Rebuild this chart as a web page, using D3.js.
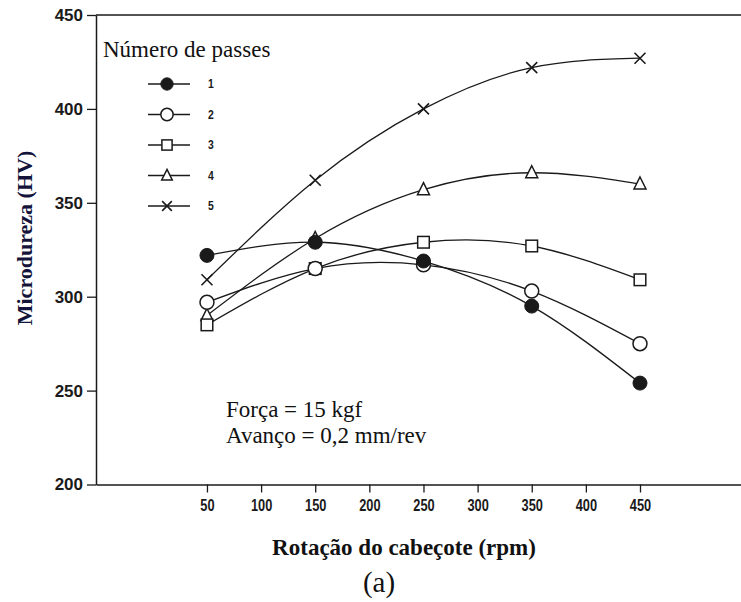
<!DOCTYPE html>
<html>
<head>
<meta charset="utf-8">
<script src="https://cdn.jsdelivr.net/npm/d3@7"></script>
<style>
  html, body { margin: 0; padding: 0; background: #fff; }
  svg { display: block; }
</style>
</head>
<body>
<svg id="chart" width="741" height="602"></svg>
<script>
// Rotation speed of the head (rpm) and microhardness (HV) per number of passes
const rotacao = [50, 150, 250, 350, 450];
const passes = ["1", "2", "3", "4", "5"];
const passe1 = [322, 329, 319, 295, 254];
const passe2 = [297, 315, 317, 303, 275];
const passe3 = [285, 315, 329, 327, 309];
const passe4 = [290, 331, 357, 366, 360];
const passe5 = [309, 362, 400, 422, 427];
const xTicks = [50, 100, 150, 200, 250, 300, 350, 400, 450];
const yTicks = [200, 250, 300, 350, 400, 450];

const serie = [passe1, passe2, passe3, passe4, passe5];
const marcadores = ["filled", "circle", "square", "triangle", "cross"];

const svg = d3.select("#chart");
const ink = "#1a1a1a";
const serif = "'Liberation Serif','Times New Roman',serif";
const sans = "'Liberation Sans',Arial,sans-serif";

const x = d3.scaleLinear().domain([-52.5, 543.3]).range([96, 741]);
const y = d3.scaleLinear().domain([200, 450]).range([484.5, 15]);

// Y axis
const gy = svg.append("g").attr("transform", `translate(${x.range()[0]},0)`)
  .call(d3.axisLeft(y).tickValues(yTicks).tickSize(9).tickSizeOuter(0).tickPadding(4));
gy.select(".domain").attr("stroke", ink).attr("stroke-width", 1.5);
gy.selectAll(".tick line").attr("stroke", ink).attr("stroke-width", 1.3);
gy.selectAll(".tick text")
  .attr("fill", ink).style("font-family", sans).style("font-weight", "bold").style("font-size", "17px");

// X axis
const gx = svg.append("g").attr("transform", `translate(0,${y(200)})`)
  .call(d3.axisBottom(x).tickValues(xTicks).tickSize(8).tickSizeOuter(0).tickPadding(7.5));
gx.select(".domain").attr("stroke", ink).attr("stroke-width", 1.5);
gx.selectAll(".tick line").attr("stroke", ink).attr("stroke-width", 1.3);
gx.selectAll(".tick text")
  .attr("fill", ink).attr("transform", "scale(0.8,1)")
  .style("font-family", sans).style("font-weight", "bold").style("font-size", "16px");

// Top frame line
svg.append("line")
  .attr("x1", x.range()[0]).attr("x2", x.range()[1])
  .attr("y1", y(450)).attr("y2", y(450))
  .attr("stroke", ink).attr("stroke-width", 1.5);

// Marker drawing
function drawMarker(g, kind, cx, cy, s) {
  const sw = 1.5;
  if (kind === "filled") {
    g.append("circle").attr("cx", cx).attr("cy", cy).attr("r", 7 * s)
      .attr("fill", ink).attr("stroke", ink).attr("stroke-width", 1);
  } else if (kind === "circle") {
    g.append("circle").attr("cx", cx).attr("cy", cy).attr("r", 7 * s)
      .attr("fill", "#fff").attr("stroke", ink).attr("stroke-width", sw);
  } else if (kind === "square") {
    const h = 5.8 * s;
    g.append("rect").attr("x", cx - h).attr("y", cy - h).attr("width", 2 * h).attr("height", 2 * h)
      .attr("fill", "#fff").attr("stroke", ink).attr("stroke-width", sw);
  } else if (kind === "triangle") {
    const w = 6 * s, hTop = 7 * s, hBot = 5 * s;
    g.append("path")
      .attr("d", `M${cx},${cy - hTop}L${cx + w},${cy + hBot}L${cx - w},${cy + hBot}Z`)
      .attr("fill", "#fff").attr("stroke", ink).attr("stroke-width", sw);
  } else {
    const h = 5.5 * s;
    g.append("path")
      .attr("d", `M${cx - h},${cy - h}L${cx + h},${cy + h}M${cx - h},${cy + h}L${cx + h},${cy - h}`)
      .attr("fill", "none").attr("stroke", ink).attr("stroke-width", 1.6);
  }
}

// Curves
const linha = d3.line().x((d, i) => x(rotacao[i])).y(d => y(d)).curve(d3.curveNatural);
const plot = svg.append("g");
for (let k = serie.length - 1; k >= 0; k--) {
  plot.append("path").attr("d", linha(serie[k]))
    .attr("fill", "none").attr("stroke", ink).attr("stroke-width", 1.3);
}
for (let k = serie.length - 1; k >= 0; k--) {
  serie[k].forEach((v, i) => drawMarker(plot, marcadores[k], x(rotacao[i]), y(v), 1));
}

// Legend
svg.append("text").attr("x", 103).attr("y", 57)
  .style("font-family", serif).style("font-size", "23px").attr("fill", "#111")
  .text("Número de passes");
const leg = svg.append("g");
passes.forEach((p, i) => {
  const ly = 84 + i * 30.5;
  leg.append("line").attr("x1", 148).attr("x2", 190).attr("y1", ly).attr("y2", ly)
    .attr("stroke", ink).attr("stroke-width", 1.3);
  drawMarker(leg, marcadores[i], 167, ly, 0.88);
  leg.append("text").attr("x", 208 / 0.8).attr("y", ly + 4.5)
    .attr("transform", "scale(0.8,1)")
    .style("font-family", sans).style("font-weight", "bold").style("font-size", "13px")
    .attr("fill", ink).text(p);
});

// Test conditions
svg.append("text").attr("x", 226).attr("y", 417)
  .style("font-family", serif).style("font-size", "23px").attr("fill", "#111")
  .text("Força = 15 kgf");
svg.append("text").attr("x", 226).attr("y", 443)
  .style("font-family", serif).style("font-size", "23px").attr("fill", "#111")
  .text("Avanço = 0,2 mm/rev");

// Axis titles
svg.append("text").attr("x", 404).attr("y", 555).attr("text-anchor", "middle")
  .style("font-family", serif).style("font-weight", "bold").style("font-size", "23px")
  .attr("fill", "#111").text("Rotação do cabeçote (rpm)");
svg.append("text")
  .attr("transform", "translate(32,238) rotate(-90)").attr("text-anchor", "middle")
  .style("font-family", serif).style("font-weight", "bold").style("font-size", "22px")
  .attr("fill", "#14143a").text("Microdureza (HV)");
svg.append("text").attr("x", 379).attr("y", 592).attr("text-anchor", "middle")
  .style("font-family", serif).style("font-size", "29px").attr("fill", "#111")
  .text("(a)");
</script>
</body>
</html>
